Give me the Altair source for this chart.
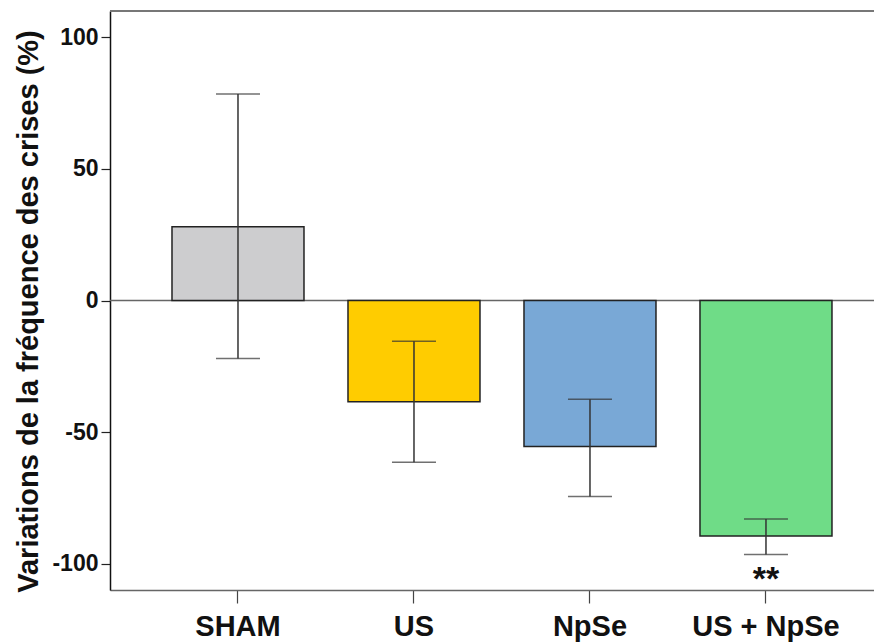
import altair as alt
import pandas as pd

groups = ["SHAM", "US", "NpSe", "US + NpSe"]
means = [28, -38.5, -55.5, -89.5]
err_low = [-22, -61.5, -74.5, -96.5]
err_high = [78.5, -15.5, -37.5, -83]
colors = ["#cdcdcf", "#ffcc00", "#79a8d6", "#6fdc87"]
sig_labels = ["", "", "", "**"]
sig_pos = [None, None, None, -104.5]

df = pd.DataFrame({
    "group": groups, "mean": means, "lo": err_low, "hi": err_high,
    "color": colors, "sig": sig_labels, "sigy": sig_pos,
})

FONT = "Liberation Sans"

x = alt.X("group:N", sort=groups, title=None,
          scale=alt.Scale(paddingInner=0.25, paddingOuter=0.2955, align=0.596),
          axis=alt.Axis(labelAngle=0, labelFont=FONT, labelFontSize=29,
                        labelFontWeight="bold", labelColor="#111",
                        domainColor="#666", domainWidth=1.5,
                        tickColor="#444", tickSize=13, tickWidth=1.2,
                        labelPadding=9))
yscale = alt.Scale(domain=[-110, 110], nice=False, zero=False)

base = alt.Chart(df)

bars = base.mark_bar(stroke="#222", strokeWidth=1.5).encode(
    x=x,
    y=alt.Y("mean:Q", scale=yscale,
            title="Variations de la fréquence des crises (%)",
            axis=alt.Axis(values=[-100, -50, 0, 50, 100], labelFont=FONT,
                          labelExpr="datum.value + ''",
                          labelFontSize=23, labelFontWeight="bold",
                          labelColor="#111", domainColor="#111",
                          domainWidth=1.5, tickColor="#222", tickSize=9,
                          tickWidth=1.2, labelPadding=3, grid=False,
                          titleFont=FONT, titleFontSize=29,
                          titleFontWeight="bold", titleColor="#111",
                          titlePadding=8, titleY=300)),
    y2=alt.datum(0),
    color=alt.Color("color:N", scale=None),
)

zero = alt.Chart(pd.DataFrame({"v": [0]})).mark_rule(
    color="#666", strokeWidth=1.5).encode(y=alt.Y("v:Q", scale=yscale))
top = alt.Chart(pd.DataFrame({"v": [110]})).mark_rule(
    color="#777", strokeWidth=2).encode(y=alt.Y("v:Q", scale=yscale))

stems = base.mark_rule(color="#333", strokeWidth=1.5).encode(
    x=x, y=alt.Y("lo:Q", scale=yscale), y2="hi:Q")
caps_lo = base.mark_tick(color="#333", size=44, thickness=1.5).encode(
    x=x, y=alt.Y("lo:Q", scale=yscale))
caps_hi = base.mark_tick(color="#333", size=44, thickness=1.5).encode(
    x=x, y=alt.Y("hi:Q", scale=yscale))

sig = base.transform_filter("datum.sig != ''").mark_text(
    font=FONT, fontSize=34, fontWeight="bold", color="#111", baseline="middle",
    dy=4
).encode(x=x, y=alt.Y("sigy:Q", scale=yscale), text="sig:N")

chart = alt.layer(zero, bars, stems, caps_lo, caps_hi, sig, top).properties(
    width=764, height=579,
    autosize=alt.AutoSizeParams(type="none"),
    padding={"left": 102, "top": 3, "right": 0, "bottom": 56},
).configure_view(stroke=None).configure(background="white")

chart.save("out.html", embed_options={"renderer": "svg", "actions": False})
